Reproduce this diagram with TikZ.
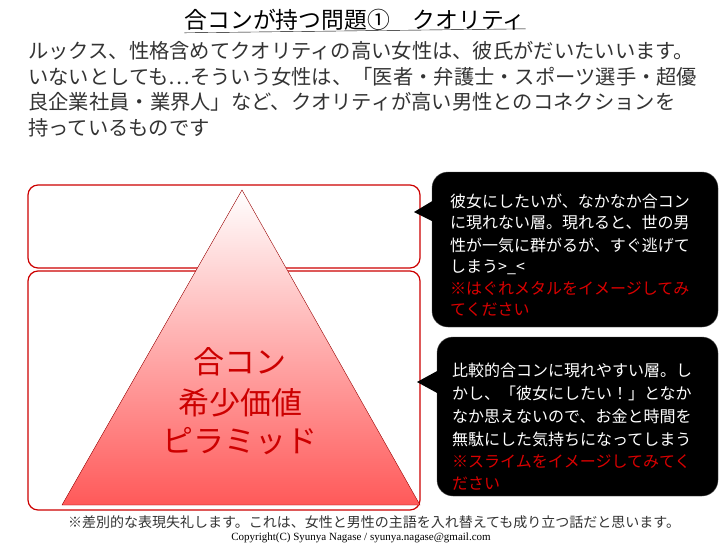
\documentclass[tikz,border=0pt]{standalone}
\usepackage{fontspec}
\newfontfamily\jp{Noto Sans CJK JP}
\newfontfamily\ser{Liberation Serif}
\begin{document}
\begin{tikzpicture}[x=1pt,y=-1pt,
  body/.style={anchor=west,inner sep=0pt,font=\jp\fontsize{20.3}{21}\selectfont,text=black!80},
  call/.style={anchor=west,inner sep=0pt,font=\jp\fontsize{16}{17}\selectfont,text=white},
  callr/.style={call,text=red!85!black},
  layer/.style={draw=red!80!black,line width=1.2pt,rounded corners=10pt},
  bubble/.style={fill=black,draw=black!70,rounded corners=16pt},
  pyr/.style={anchor=center,inner sep=0pt,font=\jp\fontsize{31}{32}\selectfont,text=red!80!black}]
\useasboundingbox (0,0) rectangle (728,546);
\node[inner sep=0pt,font=\jp\fontsize{22.8}{23}\selectfont] (title) at (355,20) {合コンが持つ問題①　クオリティ};
\draw (title.south west)++(0,2) -- ([yshift=2pt]title.south east);
\node[body] (l1) at (28,51) {ルックス、性格含めてクオリティの高い女性は、彼氏がだいたいいます。};
\node[body] (l2) at (28,77) {いないとしても…そういう女性は、「医者・弁護士・スポーツ選手・超優};
\node[body] (l3) at (28,102) {良企業社員・業界人」など、クオリティが高い男性とのコネクションを};
\node[body] (l4) at (28,128) {持っているものです};
\draw[layer] (28,185) rectangle (420,268);
\draw[layer] (28,271) rectangle (420,510);
\shade[top color=white,bottom color=red!65!white,draw=red!60!black,line width=0.4pt] (242,190) -- (420,505) -- (62,505) -- cycle;
\node[pyr] (p1) at (240,362) {合コン};
\node[pyr] (p2) at (240,403) {希少価値};
\node[pyr] (p3) at (240,441) {ピラミッド};
\draw[bubble] (432,172) rectangle (718,327);
\fill[black] (434,200) -- (414,212) -- (434,222) -- cycle;
\draw[bubble] (437,337) rectangle (718,496);
\fill[black] (439,370) -- (417,382) -- (439,394) -- cycle;
\node[call] (a1) at (450,201) {彼女にしたいが、なかなか合コン};
\node[call] (a2) at (450,223) {に現れない層。現れると、世の男};
\node[call] (a3) at (450,245) {性が一気に群がるが、すぐ逃げて};
\node[call] (a4) at (450,267) {しまう>\_<};
\node[callr] (a5) at (450,289) {※はぐれメタルをイメージしてみ};
\node[callr] (a6) at (450,310) {てください};
\node[call] (b1) at (452,370) {比較的合コンに現れやすい層。し};
\node[call] (b2) at (452,393) {かし、「彼女にしたい！」となか};
\node[call] (b3) at (452,416) {なか思えないので、お金と時間を};
\node[call] (b4) at (452,439) {無駄にした気持ちになってしまう};
\node[callr] (b5) at (452,462) {※スライムをイメージしてみてく};
\node[callr] (b6) at (452,484) {ださい};
\node[inner sep=0pt,anchor=west,font=\jp\fontsize{14}{15}\selectfont,text=black!80] (fn) at (68,522) {※差別的な表現失礼します。これは、女性と男性の主語を入れ替えても成り立つ話だと思います。};
\node[inner sep=0pt,font=\ser\fontsize{11}{12}\selectfont] (cr) at (361,538) {Copyright(C) Syunya Nagase / syunya.nagase@gmail.com};
\end{tikzpicture}
\end{document}
